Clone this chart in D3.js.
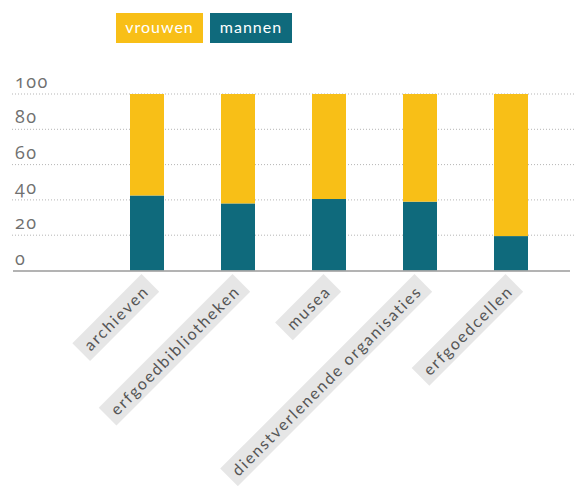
<!DOCTYPE html>
<html>
<head>
<meta charset="utf-8">
<script src="https://cdn.jsdelivr.net/npm/d3@7"></script>
<style>
  html, body { margin: 0; padding: 0; background: #fff; }
  svg { display: block; font-family: Lato, "Open Sans", sans-serif; }
</style>
</head>
<body>
<svg id="chart" width="576" height="486"></svg>
<script>
// Share of women and men per type of heritage organisation (%)
const categories = ["archieven", "erfgoedbibliotheken", "musea", "dienstverlenende organisaties", "erfgoedcellen"];
const mannen = [42.5, 38, 40.5, 39, 19.5];
const vrouwen = [57.5, 62, 59.5, 61, 80.5];
const yTicks = [0, 20, 40, 60, 80, 100];
const seriesNames = ["vrouwen", "mannen"];
const seriesColors = ["#F8BF17", "#0F6A7C"];

const svg = d3.select("#chart");

const x = d3.scaleBand()
  .domain(categories)
  .range([101.5, 556.5])
  .paddingInner(57 / 91)
  .paddingOuter(57 / 182);

const y = d3.scaleLinear().domain([0, 100]).range([270.5, 94]);

// dotted gridlines
svg.append("g")
  .selectAll("line")
  .data(yTicks.filter(d => d > 0))
  .join("line")
  .attr("x1", 12).attr("x2", 576)
  .attr("y1", d => y(d)).attr("y2", d => y(d))
  .attr("stroke", "#b5b5b5")
  .attr("stroke-width", 1)
  .attr("stroke-dasharray", "1,2");

// y tick labels sit just above their gridline
svg.append("g")
  .selectAll("text")
  .data(yTicks)
  .join("text")
  .attr("x", 15)
  .attr("y", d => y(d) - 6)
  .attr("fill", "#707070")
  .style("font-family", "'Open Sans', sans-serif")
  .style("font-size", "18px")
  .style("font-feature-settings", "'onum' 1")
  .style("letter-spacing", "1.5px")
  .text(d => d);

// stacked bars
const rows = categories.map((c, i) => ({ cat: c, mannen: mannen[i], vrouwen: vrouwen[i] }));
const stack = d3.stack().keys(["mannen", "vrouwen"]);
const stacked = stack(rows);
const color = d3.scaleOrdinal().domain(seriesNames).range(seriesColors);

svg.append("g")
  .selectAll("g")
  .data(stacked)
  .join("g")
  .attr("fill", s => color(s.key))
  .selectAll("rect")
  .data(s => s)
  .join("rect")
  .attr("x", d => x(d.data.cat))
  .attr("width", x.bandwidth())
  .attr("y", d => y(d[1]))
  .attr("height", d => y(d[0]) - y(d[1]));

// baseline
svg.append("line")
  .attr("x1", 13).attr("x2", 570)
  .attr("y1", y(0) + 0.5).attr("y2", y(0) + 0.5)
  .attr("stroke", "#9a9a9a")
  .attr("stroke-width", 1.5);

// rotated category labels on grey tags
const labels = svg.append("g")
  .selectAll("g")
  .data(categories)
  .join("g")
  .attr("transform", d => `translate(${x(d) + x.bandwidth() / 2 + 3},${y(0) + 22}) rotate(-45)`);

labels.append("text")
  .attr("text-anchor", "end")
  .attr("x", 0).attr("y", 0)
  .attr("fill", "#555")
  .style("font-size", "16px")
  .style("letter-spacing", "1.8px")
  .text(d => d);

labels.each(function () {
  const g = d3.select(this);
  const bb = g.select("text").node().getBBox();
  g.insert("rect", "text")
    .attr("x", bb.x - 7)
    .attr("y", bb.y - 3)
    .attr("width", bb.width + 14)
    .attr("height", bb.height + 6)
    .attr("fill", "#e6e6e6");
});

// legend
const legendX = [116, 210];
const legendW = [87, 82];
const legend = svg.append("g")
  .selectAll("g")
  .data(seriesNames)
  .join("g")
  .attr("transform", (d, i) => `translate(${legendX[i]},13)`);

legend.append("rect")
  .attr("width", (d, i) => legendW[i])
  .attr("height", 30)
  .attr("fill", d => color(d));

legend.append("text")
  .attr("x", (d, i) => legendW[i] / 2)
  .attr("y", 20)
  .attr("text-anchor", "middle")
  .attr("fill", "#fff")
  .style("font-size", "16px")
  .style("letter-spacing", "1px")
  .text(d => d);
</script>
</body>
</html>
